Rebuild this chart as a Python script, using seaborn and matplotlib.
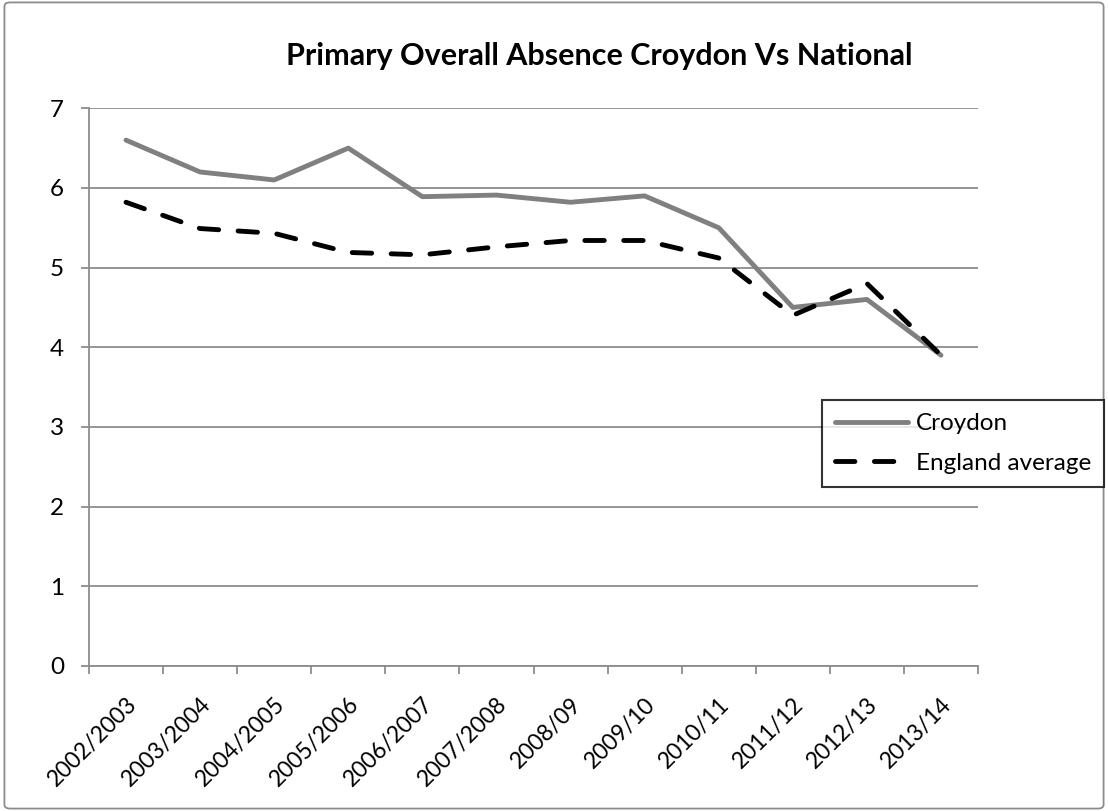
import matplotlib
matplotlib.use("Agg")
import matplotlib.pyplot as plt
import seaborn as sns
import pandas as pd
from matplotlib.patches import FancyBboxPatch
from matplotlib.ticker import FixedLocator

years = ['2002/2003', '2003/2004', '2004/2005', '2005/2006', '2006/2007',
         '2007/2008', '2008/09', '2009/10', '2010/11', '2011/12', '2012/13', '2013/14']
croydon = [6.6, 6.2, 6.1, 6.5, 5.89, 5.91, 5.82, 5.9, 5.5, 4.5, 4.6, 3.9]
england = [5.82, 5.49, 5.43, 5.19, 5.16, 5.26, 5.34, 5.34, 5.12, 4.4, 4.8, 3.9]

sns.set_theme(style='white')
plt.rcParams['font.family'] = ['Lato', 'DejaVu Sans']
plt.rcParams['text.color'] = 'black'
plt.rcParams['xtick.color'] = 'black'
plt.rcParams['ytick.color'] = 'black'

df = pd.DataFrame({'year': years, 'Croydon': croydon, 'England average': england})

fig = plt.figure(figsize=(11.08, 8.11), dpi=100)
ax = fig.add_axes([0.0803, 0.179, 0.8024, 0.6875])

sns.lineplot(data=df, x='year', y='Croydon', ax=ax, color='#808080', lw=3.5,
             label='Croydon', solid_capstyle='round', solid_joinstyle='round')
sns.lineplot(data=df, x='year', y='England average', ax=ax, color='black', lw=3.5,
             label='England average', dashes=(4.0, 4.0),
             dash_capstyle='round', dash_joinstyle='round')

ax.set_xlim(-0.5, len(years) - 0.5)
ax.set_ylim(0, 7)
ax.set_yticks(range(0, 8))
ax.set_xlabel('')
ax.set_ylabel('')

fig.text(599 / 1108, 1 - 56 / 811, 'Primary Overall Absence Croydon Vs National',
         fontsize=22, fontweight='bold', ha='center', va='center')

# gridlines and spines, Excel-like
ax.yaxis.grid(True, color='#8c8c8c', lw=1.3)
ax.xaxis.grid(False)
for s in ['top', 'right']:
    ax.spines[s].set_visible(False)
for s in ['left', 'bottom']:
    ax.spines[s].set_color('#8c8c8c')
    ax.spines[s].set_linewidth(1.3)

ax.tick_params(axis='y', which='major', left=True, length=6, width=1.3,
               color='#8c8c8c', labelcolor='black', labelsize=17.5, pad=12)
ax.set_xticks(range(len(years)))
ax.set_xticklabels(years, rotation=45, ha='right', rotation_mode='anchor')
ax.tick_params(axis='x', which='major', bottom=False, labelsize=16.5, pad=14,
               labelcolor='black')
ax.xaxis.set_minor_locator(FixedLocator([i - 0.5 for i in range(len(years) + 1)]))
ax.tick_params(axis='x', which='minor', bottom=True, length=6, width=1.3,
               color='#8c8c8c')

ax.get_legend().remove()
h, l = ax.get_legend_handles_labels()
leg = fig.legend(h, l, loc='upper left', bbox_to_anchor=(822 / 1108, 1 - 400 / 811),
                 borderaxespad=0, frameon=True, fancybox=False, fontsize=17.5,
                 handlelength=3.0, handletextpad=0.3, labelspacing=0.75,
                 borderpad=0.55)
leg.get_frame().set_edgecolor('black')
leg.get_frame().set_linewidth(1.5)

# outer chart border
fig.patches.append(FancyBboxPatch((0.004, 0.003), 0.992, 0.994,
                                  boxstyle='round,pad=0,rounding_size=0.005',
                                  transform=fig.transFigure, fill=False,
                                  ec='#8c8c8c', lw=1.3))

fig.savefig('out.png', dpi=100)
